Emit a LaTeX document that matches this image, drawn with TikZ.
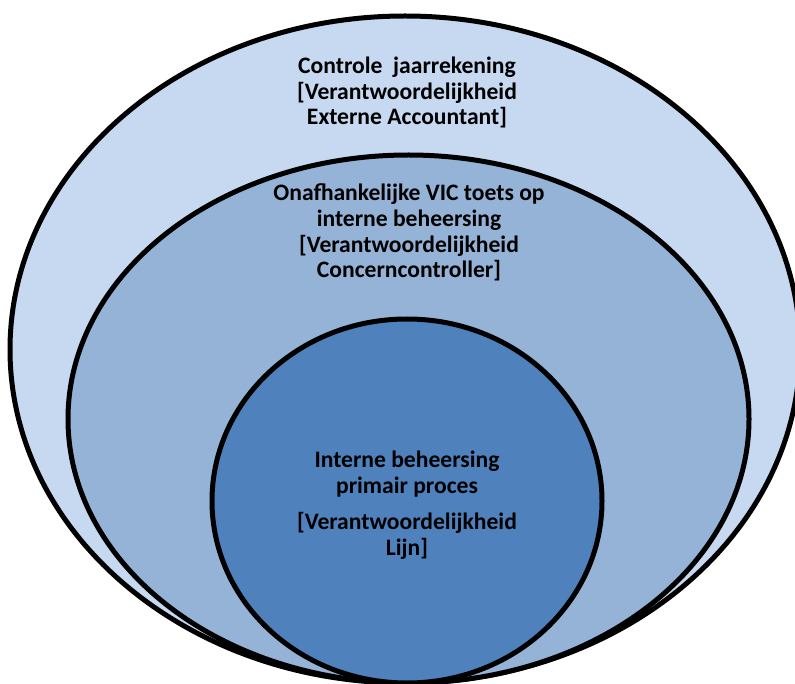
\documentclass[tikz,border=0pt]{standalone}
\usepackage{fontspec}
\setmainfont{Carlito}
\usetikzlibrary{shapes.geometric}
\definecolor{outerblue}{HTML}{C6D9F0}
\definecolor{midblue}{HTML}{95B3D7}
\definecolor{innerblue}{HTML}{4F81BD}
\begin{document}
\begin{tikzpicture}[x=1pt, y=-1pt,
  ring/.style={draw, ellipse, line width=5pt, inner sep=0pt},
  lbl/.style={align=center, font=\bfseries\fontsize{23.6}{25.8}\selectfont}]

\useasboundingbox (0,0) rectangle (795,684);
\clip (0,0) rectangle (795,684);

\node (outer) [ring, fill=outerblue, minimum width=790pt, minimum height=667pt] at (405,349.5) {};
\node (middle) [ring, fill=midblue, minimum width=681pt, minimum height=528pt] at (408.5,419) {};
\node (inner) [ring, fill=innerblue, minimum width=390pt, minimum height=364pt] at (407,501) {};

% anchor=base sits on the last line
\node (outertext) [lbl, anchor=base] at (407,125) {Controle~ jaarrekening\\{[}Verantwoordelijkheid\\Externe Accountant]};
\node (middletext) [lbl, anchor=base] at (409,278) {Onafhankelijke VIC toets op\\interne beheersing\\{[}Verantwoordelijkheid\\Concerncontroller]};
\node (innertext) [lbl, anchor=base] at (407,555) {Interne beheersing\\primair proces\\[10pt]{[}Verantwoordelijkheid\\Lijn]};

\end{tikzpicture}
\end{document}
